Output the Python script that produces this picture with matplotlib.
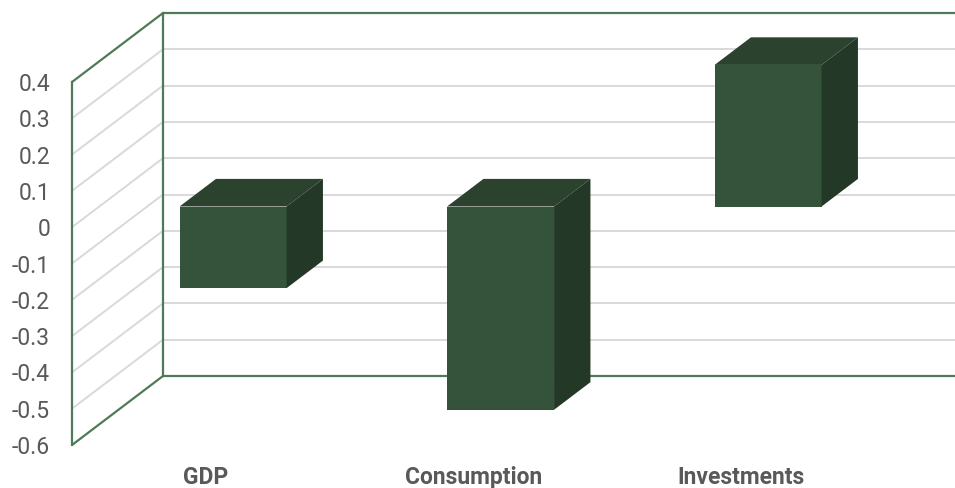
import matplotlib
matplotlib.use("Agg")
import matplotlib.pyplot as plt
from matplotlib.patches import Polygon

plt.rcParams['font.family'] = ['Roboto', 'DejaVu Sans']

categories = ["GDP", "Consumption", "Investments"]
values = [-0.225, -0.56, 0.39]
yticks = [0.4, 0.3, 0.2, 0.1, 0.0, -0.1, -0.2, -0.3, -0.4, -0.5, -0.6]
ytick_labels = ["0.4", "0.3", "0.2", "0.1", "0", "-0.1", "-0.2", "-0.3", "-0.4", "-0.5", "-0.6"]

W, H = 955, 488
fig = plt.figure(figsize=(W / 100, H / 100), dpi=100)
# front plane of the axes in pixels
x0_px, x1_px = 72, 874.5
ytop_px, ybot_px = 82, 445
ax = fig.add_axes([x0_px / W, (H - ybot_px) / H, (x1_px - x0_px) / W, (ybot_px - ytop_px) / H])
ax.set_xlim(0, 3)
ax.set_ylim(-0.6, 0.4)
ax.patch.set_visible(False)

green = '#4f7a58'
grid = '#d9d9d9'
txt = '#595959'

# depth offsets (data units)
DX = 91 / 267.5
DY = 69 / 363

ymin, ymax = -0.6, 0.4
# side wall lines and back wall gridlines
for v in yticks:
    edge = v in (ymin, ymax)
    c = green if edge else grid
    lw = 1.6 if edge else 1.4
    ax.plot([0, DX], [v, v + DY], color=c, lw=lw, clip_on=False, zorder=2 if edge else 1, solid_capstyle='butt')
    ax.plot([DX, 3 + DX], [v + DY, v + DY], color=c, lw=lw, clip_on=False, zorder=2 if edge else 1, solid_capstyle='butt')
ax.plot([DX, DX], [ymin + DY, ymax + DY], color=green, lw=1.6, clip_on=False, zorder=2)

# front left axis line
for s in ['top', 'right', 'bottom']:
    ax.spines[s].set_visible(False)
ax.spines['left'].set_color(green)
ax.spines['left'].set_linewidth(1.6)

# bars
front_c = '#35533a'
top_c = '#2a422e'
side_c = '#233826'
bw = 0.4
f0, f1 = 0.3, 0.7
for i, v in enumerate(values):
    xl = i + 0.5 - bw / 2 + f0 * DX
    xr = i + 0.5 + bw / 2 + f0 * DX
    yb = min(0, v) + f0 * DY
    yt = max(0, v) + f0 * DY
    d = (f1 - f0)
    ddx, ddy = d * DX, d * DY
    front = Polygon([(xl, yb), (xr, yb), (xr, yt), (xl, yt)], closed=True,
                    facecolor=front_c, edgecolor='none', zorder=5, clip_on=False)
    top = Polygon([(xl, yt), (xr, yt), (xr + ddx, yt + ddy), (xl + ddx, yt + ddy)], closed=True,
                  facecolor=top_c, edgecolor='none', zorder=5, clip_on=False)
    side = Polygon([(xr, yb), (xr + ddx, yb + ddy), (xr + ddx, yt + ddy), (xr, yt)], closed=True,
                   facecolor=side_c, edgecolor='none', zorder=5, clip_on=False)
    for p in (front, top, side):
        ax.add_patch(p)

ax.set_yticks(yticks)
ax.set_yticklabels(ytick_labels)
ax.tick_params(axis='y', length=0, pad=15.8, labelsize=16.5, labelcolor=txt)
ax.set_xticks([i + 0.5 for i in range(len(categories))])
ax.set_xticklabels(categories, fontweight='bold')
ax.tick_params(axis='x', length=0, pad=15, labelsize=16.5, labelcolor=txt)

fig.savefig("out.png", dpi=100)
